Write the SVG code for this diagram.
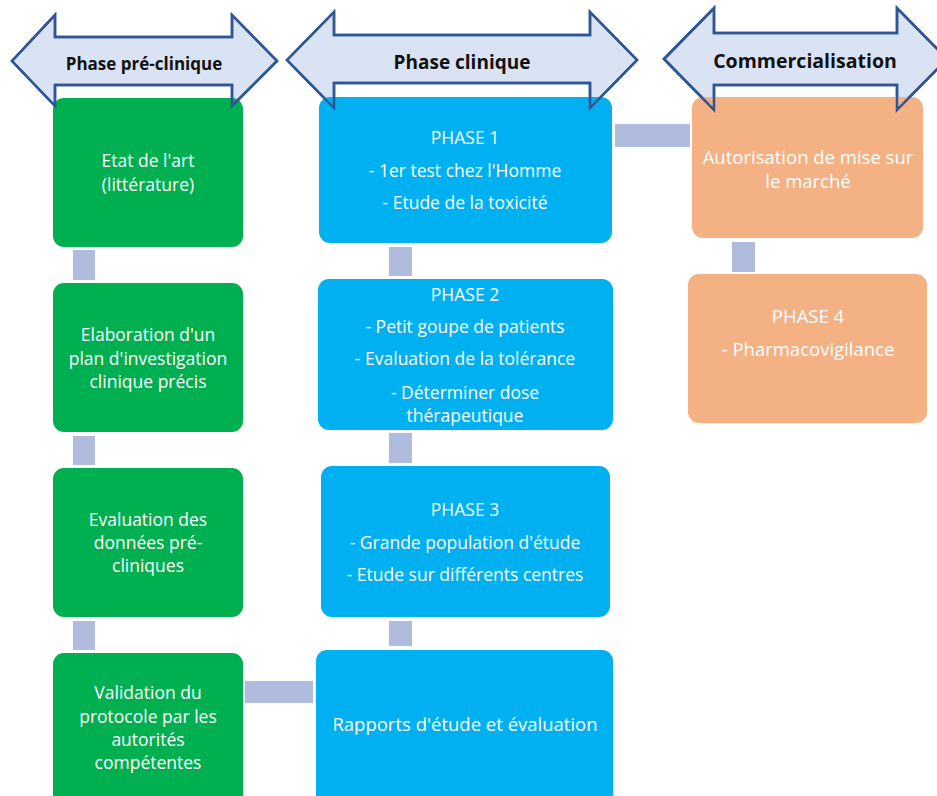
<svg xmlns="http://www.w3.org/2000/svg" width="937" height="796" viewBox="0 0 937 796">
<style>
.arr{fill:#DAE3F3;stroke:#2F5597;stroke-width:2.5;stroke-linejoin:miter}
.arrline{fill:none;stroke:#2F5597;stroke-width:2.5}
.g{fill:#00B050}
.b{fill:#00B0F0}
.o{fill:#F4B183}
.c{fill:#B0BCDE}
.t{font-family:"Open Sans","Liberation Sans",Arial,sans-serif;font-size:17.5px;fill:#ffffff;text-anchor:middle;dominant-baseline:central}
.tl{font-size:18.5px}
.h{font-family:"Open Sans","Liberation Sans",Arial,sans-serif;font-weight:bold;fill:#111111;text-anchor:middle;dominant-baseline:central}
</style>
<defs>
<path id="a1" d="M12,61 L55,15 L55,37 L232,37 L232,15 L277,61 L232,106 L232,85 L55,85 L55,106 Z"/>
<path id="a2" d="M287,60 L334,12 L334,35 L590,35 L590,12 L637,60 L590,108 L590,83 L334,83 L334,108 Z"/>
<path id="a3" d="M664,59 L714,8 L714,33 L897,33 L897,8 L947,59 L897,110 L897,85 L714,85 L714,110 Z"/>
</defs>
<g id="phase-arrows">
<use href="#a1" class="arr"/>
<use href="#a2" class="arr"/>
<use href="#a3" class="arr"/>
</g>
<g id="connectors">
<rect class="c" x="73" y="250" width="22" height="30"/>
<rect class="c" x="73" y="436" width="22" height="29"/>
<rect class="c" x="73" y="621" width="22" height="29"/>
<rect class="c" x="245" y="681" width="68" height="22"/>
<rect class="c" x="389" y="247" width="23" height="29"/>
<rect class="c" x="389" y="433" width="23" height="30"/>
<rect class="c" x="389" y="621" width="23" height="25"/>
<rect class="c" x="615" y="124" width="75" height="23"/>
<rect class="c" x="732" y="242" width="23" height="30"/>
</g>
<g id="n1"><rect class="g" x="53" y="98" width="190" height="149" rx="11"/>
<text class="t"><tspan x="148" y="160">Etat de l'art</tspan><tspan x="148" y="184">(littérature)</tspan></text></g>
<g id="n2"><rect class="g" x="53" y="283" width="190" height="149" rx="11"/>
<text class="t"><tspan x="148" y="334">Elaboration d'un</tspan><tspan x="148" y="358">plan d'investigation</tspan><tspan x="148" y="381">clinique précis</tspan></text></g>
<g id="n3"><rect class="g" x="53" y="468" width="190" height="149" rx="11"/>
<text class="t"><tspan x="148" y="519">Evaluation des</tspan><tspan x="148" y="542">données pré-</tspan><tspan x="148" y="565">cliniques</tspan></text></g>
<g id="n4"><rect class="g" x="53" y="653" width="190" height="160" rx="11"/>
<text class="t"><tspan x="148" y="692">Validation du</tspan><tspan x="148" y="716">protocole par les</tspan><tspan x="148" y="739">autorités</tspan><tspan x="148" y="762">compétentes</tspan></text></g>
<g id="p1"><rect class="b" x="319" y="97" width="293" height="146" rx="11"/>
<text class="t"><tspan x="465" y="137">PHASE 1</tspan><tspan x="465" y="170">- 1er test chez l'Homme</tspan><tspan x="465" y="202">- Etude de la toxicité</tspan></text></g>
<g id="p2"><rect class="b" x="318" y="279" width="295" height="151" rx="11"/>
<text class="t"><tspan x="465" y="294">PHASE 2</tspan><tspan x="465" y="326">- Petit goupe de patients</tspan><tspan x="465" y="358">- Evaluation de la tolérance</tspan><tspan x="465" y="392">- Déterminer dose</tspan><tspan x="465" y="415">thérapeutique</tspan></text></g>
<g id="p3"><rect class="b" x="321" y="466" width="289" height="151" rx="11"/>
<text class="t"><tspan x="465" y="509">PHASE 3</tspan><tspan x="465" y="542">- Grande population d'étude</tspan><tspan x="465" y="574">- Etude sur différents centres</tspan></text></g>
<g id="rapports"><rect class="b" x="316" y="650" width="297" height="160" rx="11"/>
<text class="t tl" x="465" y="723">Rapports d'étude et évaluation</text></g>
<g id="amm"><rect class="o" x="692" y="97" width="231" height="141" rx="11"/>
<text class="t tl"><tspan x="808" y="156">Autorisation de mise sur</tspan><tspan x="808" y="180">le marché</tspan></text></g>
<g id="p4"><rect class="o" x="688" y="274" width="239" height="149" rx="11"/>
<text class="t tl"><tspan x="808" y="315">PHASE 4</tspan><tspan x="808" y="348">- Pharmacovigilance</tspan></text></g>
<g id="arrow-outlines">
<use href="#a1" class="arrline"/>
<use href="#a2" class="arrline"/>
<use href="#a3" class="arrline"/>
<text class="h" x="144" y="63" font-size="17">Phase pré-clinique</text>
<text class="h" x="462" y="62" font-size="19">Phase clinique</text>
<text class="h" x="805" y="60" font-size="19.5">Commercialisation</text>
</g>
</svg>
